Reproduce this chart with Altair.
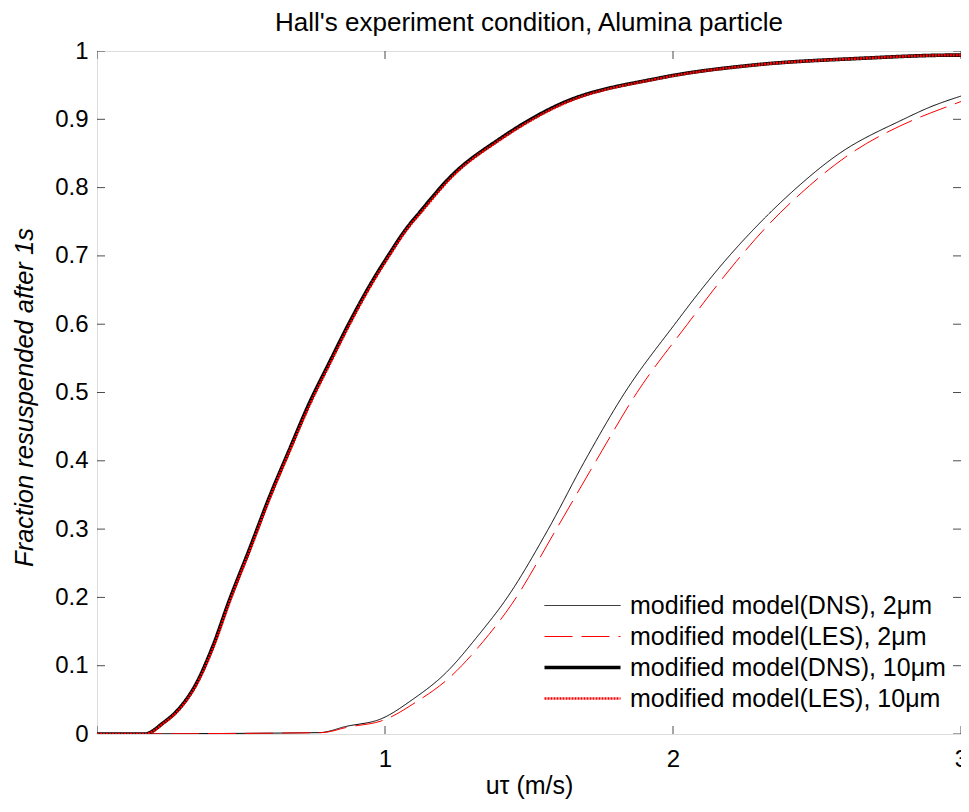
import altair as alt
import pandas as pd

# ---- data ----
series_names = [
    "modified model(DNS), 2\u03bcm",
    "modified model(LES), 2\u03bcm",
    "modified model(DNS), 10\u03bcm",
    "modified model(LES), 10\u03bcm",
]
series_colors = ["#000000", "#ff0000", "#000000", "#ff0000"]
series_widths = [1, 1, 3.6, 2.6]
series_dashes = [[1, 0], [28, 9], [1, 0], [2, 1]]

u_dns2 = [0.0, 0.772, 0.864, 0.991, 1.094, 1.21, 1.325, 1.423, 1.567, 1.694, 1.833, 2.006, 2.097, 2.179, 2.294, 2.409, 2.571, 2.8, 2.893, 3.0]
f_dns2 = [0.0, 0.002, 0.011, 0.023, 0.05, 0.089, 0.145, 0.199, 0.3, 0.4, 0.5, 0.6, 0.65, 0.692, 0.745, 0.792, 0.848, 0.9, 0.918, 0.934]

u_les2 = [0.0, 0.78, 0.87, 1.0, 1.105, 1.225, 1.34, 1.44, 1.595, 1.733, 1.875, 2.05, 2.14, 2.22, 2.33, 2.445, 2.6, 2.84, 2.93, 3.0]
f_les2 = [0.0, 0.002, 0.010, 0.021, 0.046, 0.083, 0.135, 0.19, 0.3, 0.4, 0.5, 0.6, 0.65, 0.692, 0.745, 0.792, 0.845, 0.9, 0.915, 0.926]

u_dns10 = [0.0, 0.166, 0.229, 0.287, 0.345, 0.402, 0.46, 0.529, 0.599, 0.668, 0.737, 0.806, 0.875, 0.945, 1.014, 1.071, 1.123, 1.233, 1.394, 1.602, 1.948, 2.294, 2.64, 2.986, 3.0]
f_dns10 = [0.0, 0.0, 0.016, 0.038, 0.074, 0.128, 0.196, 0.27, 0.347, 0.416, 0.484, 0.543, 0.601, 0.655, 0.702, 0.738, 0.765, 0.818, 0.870, 0.921, 0.96, 0.98, 0.989, 0.994, 0.994]

u_les10 = [0.0, 0.168, 0.232, 0.290, 0.348, 0.405, 0.463, 0.532, 0.602, 0.671, 0.741, 0.81, 0.879, 0.949, 1.018, 1.075, 1.128, 1.238, 1.40, 1.61, 1.955, 2.30, 2.645, 2.99, 3.0]
f_les10 = [0.0, 0.0, 0.016, 0.038, 0.074, 0.128, 0.196, 0.27, 0.347, 0.416, 0.484, 0.543, 0.601, 0.655, 0.702, 0.738, 0.765, 0.818, 0.870, 0.921, 0.96, 0.98, 0.989, 0.994, 0.994]

y_ticks = [0, 0.1, 0.2, 0.3, 0.4, 0.5, 0.6, 0.7, 0.8, 0.9, 1.0]
x_ticks = [1, 2, 3]

# ---- build table ----
frames = []
for name, us, fs in zip(series_names,
                        [u_dns2, u_les2, u_dns10, u_les10],
                        [f_dns2, f_les2, f_dns10, f_les10]):
    frames.append(pd.DataFrame({"u": us, "f": fs, "series": name}))
df = pd.concat(frames, ignore_index=True)

FONT = "Liberation Sans"

xscale = alt.Scale(domain=[0, 3], nice=False, zero=False)
yscale = alt.Scale(domain=[0, 1], nice=False)

# per-entry legend stroke width, looked up from the series lists
width_expr = " : ".join(
    f"datum.label == '{n}' ? {w}" for n, w in zip(series_names[:-1], series_widths[:-1])
) + f" : {series_widths[-1]}"

color = alt.Color(
    "series:N",
    scale=alt.Scale(domain=series_names, range=series_colors),
    legend=alt.Legend(
        title=None,
        orient="none",
        legendX=473,
        legendY=542,
        symbolType="M-4,0H4",
        symbolSize=361,
        symbolStrokeWidth=alt.ExprRef(width_expr),
        labelFont=FONT,
        labelFontSize=25,
        labelColor="#000000",
        labelOffset=35,
        rowPadding=5,
        padding=0,
        symbolOpacity=1,
        labelLimit=400,
    ),
)
dash = alt.StrokeDash(
    "series:N",
    scale=alt.Scale(domain=series_names, range=series_dashes),
    legend=None,
)

base = alt.Chart(df)

layers = []
for name, w in zip(series_names, series_widths):
    layers.append(
        base.transform_filter(alt.datum.series == name)
        .mark_line(clip=True, interpolate="monotone", strokeWidth=w)
        .encode(
            x=alt.X("u:Q", scale=xscale,
                    axis=alt.Axis(values=x_ticks, title="u\u03c4 (m/s)", grid=False, ticks=False,
                                  domain=False, labelFont=FONT, labelFontSize=24, format="~g",
                                  labelColor="#000", labelPadding=13, titleFont=FONT,
                                  titleFontSize=25, titleFontWeight="normal", titleColor="#000",
                                  titlePadding=2, labelFlush=False)),
            y=alt.Y("f:Q", scale=yscale,
                    axis=alt.Axis(values=y_ticks, title="Fraction resuspended after 1s",
                                  grid=False, ticks=False, domain=False, labelFont=FONT,
                                  labelFontSize=24, labelColor="#000", labelPadding=9,
                                  titleFont=FONT, titleFontSize=25.5, titleFontWeight="normal",
                                  titleFontStyle="italic", titleColor="#000", titlePadding=17,
                                  titleY=346, format="~g", labelFlush=False)),
            color=color,
            strokeDash=dash,
        )
    )

# inward tick marks on all four sides (clipped half of a centred tick)
yt = pd.DataFrame({"v": y_ticks})
xt = pd.DataFrame({"v": [0, 1, 2, 3]})
tick_left = alt.Chart(yt).mark_tick(orient="horizontal", size=16, thickness=1, color="#000", clip=True).encode(
    x=alt.datum(0, scale=xscale), y=alt.Y("v:Q", scale=yscale))
tick_right = alt.Chart(yt).mark_tick(orient="horizontal", size=16, thickness=1, color="#000", clip=True).encode(
    x=alt.datum(3, scale=xscale), y=alt.Y("v:Q", scale=yscale))
tick_bot = alt.Chart(xt).mark_tick(orient="vertical", size=16, thickness=1, color="#000", clip=True).encode(
    x=alt.X("v:Q", scale=xscale), y=alt.datum(0, scale=yscale))
tick_top = alt.Chart(xt).mark_tick(orient="vertical", size=16, thickness=1, color="#000", clip=True).encode(
    x=alt.X("v:Q", scale=xscale), y=alt.datum(1, scale=yscale))

chart = alt.layer(tick_left, tick_right, tick_bot, tick_top, *layers).properties(
    width=864,
    height=683,
    title=alt.Title("Hall's experiment condition, Alumina particle", font=FONT, fontSize=26,
                    fontWeight="normal", color="#000", offset=3),
    padding={"left": 89, "top": 43, "right": 0, "bottom": 66},
    autosize=alt.AutoSizeParams(type="none"),
).configure_view(stroke="#000", strokeWidth=1.5).configure(background="white")

chart.save("out.html", embed_options={"renderer": "svg", "actions": False})
